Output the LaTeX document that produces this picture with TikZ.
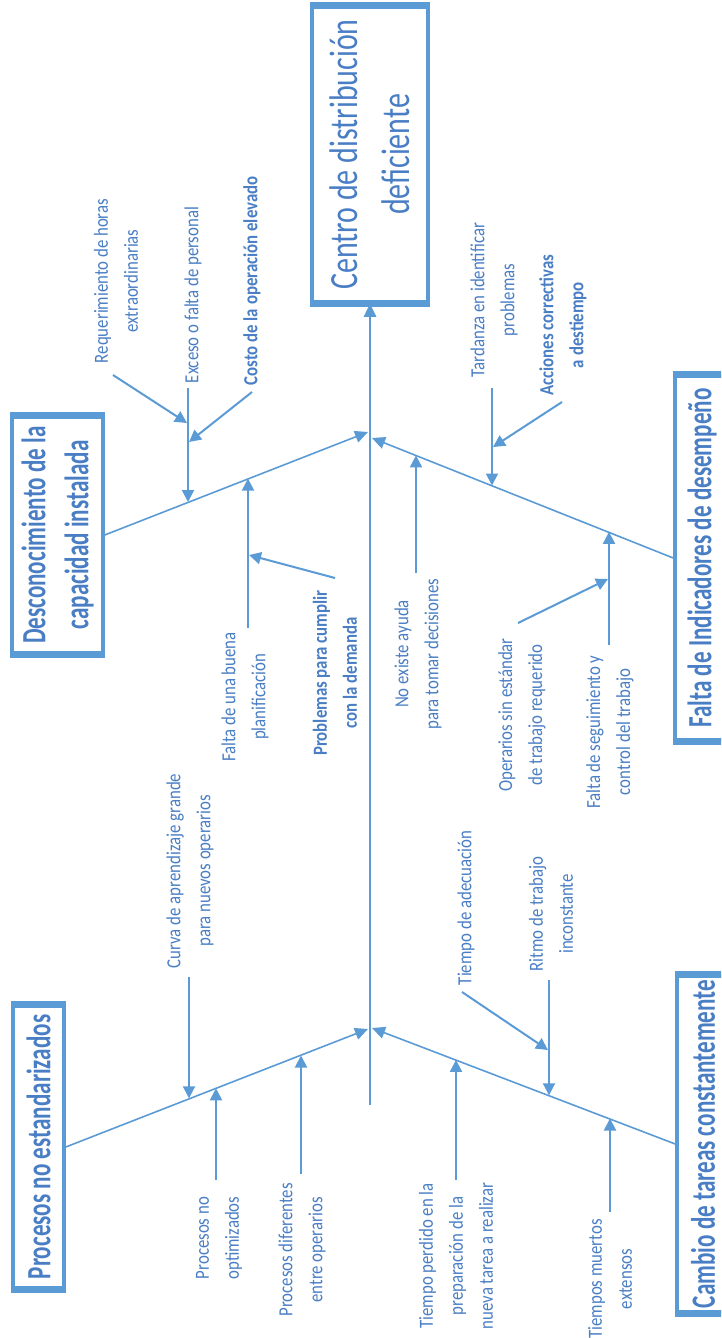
\documentclass[tikz,border=0pt]{standalone}
\usepackage{fontspec}
\setmainfont{Carlito}
\newfontfamily\headfont[FakeStretch=0.75]{Carlito}
\newfontfamily\catfont[FakeStretch=0.68]{Carlito}
\newfontfamily\labfont[FakeStretch=0.84]{Carlito}
\usetikzlibrary{arrows.meta}
\definecolor{fbline}{RGB}{91,155,213}
\definecolor{fbtext}{RGB}{74,126,196}
\begin{document}
\begin{tikzpicture}[x=1pt,y=-1pt,
  lab/.style={rotate=90, align=center, text=fbtext, inner sep=0pt, font=\labfont\fontsize{20}{30}\selectfont},
  labb/.style={lab, font=\labfont\bfseries\fontsize{20}{30}\selectfont},
  catbox/.style={draw=fbline, line width=3.5pt, rotate=90, align=center, text=fbtext, inner sep=0pt, font=\catfont\bfseries\fontsize{34}{43}\selectfont},
  headbox/.style={catbox, font=\headfont\fontsize{40}{52}\selectfont},
  bar/.style={draw=fbline, line width=7pt},
  bone/.style={draw=fbline, line width=1.6pt, -{Triangle[length=13pt,width=12pt]}},
  subarrow/.style={draw=fbline, line width=2pt, -{Triangle[length=12pt,width=12pt]}},
  spine/.style={draw=fbline, line width=2.5pt, -{Triangle[length=13pt,width=12pt]}}
]
\useasboundingbox (0,0) rectangle (721,1338);
\clip (0,0) rectangle (721,1338);

% head
\node[headbox, minimum width=295pt, minimum height=116pt] (head) at (370,154.5) {Centro de distribución\\deficiente};
\draw[bar] (head.north east) -- (head.south east);
\draw[bar] (head.north west) -- (head.south west);

% category boxes
\node[catbox, minimum width=236pt, minimum height=91pt] (c1) at (57.5,535) {Desconocimiento de la\\capacidad instalada};
\draw[bar] (c1.north east) -- (c1.south east);
\draw[bar] (c1.north west) -- (c1.south west);

\node[catbox, minimum width=364pt, minimum height=54pt] (f1) at (702,558) {Falta de Indicadores de desempeño};
\draw[bar] (f1.north east) -- (f1.south east);
\draw[bar] (f1.north west) -- (f1.south west);

\node[catbox, minimum width=282pt, minimum height=51pt] (p1) at (38.5,1147) {Procesos no estandarizados};
\draw[bar] (p1.north east) -- (p1.south east);
\draw[bar] (p1.north west) -- (p1.south west);

\node[catbox, minimum width=336pt, minimum height=52pt] (t1) at (703,1144) {Cambio de tareas constantemente};
\draw[bar] (t1.north east) -- (t1.south east);
\draw[bar] (t1.north west) -- (t1.south west);

% spine and junctions
\coordinate (sp0) at (370,1105);
\coordinate (j1) at (368,432);
\coordinate (j2) at (372,438);
\coordinate (j3) at (368,1029);
\coordinate (j4) at (372,1028);
\draw[spine] (sp0) -- (head.west);
\draw[bone] (c1.south) -- (j1);
\draw[bone] (f1.north) -- (j2);
\draw[bone] (p1.south) -- (j3);
\draw[bone] (t1.north) -- (j4);

% labels
\node[lab] (l1) at (116,281) {Requerimiento de horas\\extraordinarias};
\node[lab] (l2) at (193,295) {Exceso o falta de personal};
\node[labb] (l3) at (252,281) {Costo de la operación elevado};
\node[lab] (l4) at (245,697) {Falta de una buena\\planificación};
\node[labb] (l5) at (335,673) {Problemas para cumplir\\con la demanda};
\node[lab] (l6) at (418,654) {No existe ayuda\\para tomar decisiones};
\node[lab] (l7) at (522,715) {Operarios sin estándar\\de trabajo requerido};
\node[lab] (l8) at (610,732) {Falta de seguimiento y\\control del trabajo};
\node[lab] (l9) at (494,300) {Tardanza en identificar\\problemas};
\node[labb] (l10) at (563,325) {Acciones correctivas\\a destiempo};
\node[lab] (l11) at (190,871) {Curva de aprendizaje grande\\para nuevos operarios};
\node[lab] (l12) at (219,1238) {Procesos no\\optimizados};
\node[lab] (l13) at (302,1250) {Procesos diferentes\\entre operarios};
\node[lab] (l14) at (466,908) {Tiempo de adecuación};
\node[lab] (l15) at (551,914) {Ritmo de trabajo\\inconstante};
\node[lab] (l16) at (456,1256) {Tiempo perdido en la\\preparación de la\\nueva tarea a realizar};
\node[lab] (l17) at (610,1279) {Tiempos muertos\\extensos};

% sub-cause arrows: upper left
\coordinate (a1s) at (188,388);   \coordinate (a1t) at (188,502);
\coordinate (a2s) at (113,375);   \coordinate (a2t) at (187,423);
\coordinate (a3s) at (252,392);   \coordinate (a3t) at (189,442);
\coordinate (a4s) at (248,628);   \coordinate (a4t) at (248,478.6);
\coordinate (a5s) at (335,578);   \coordinate (a5t) at (249,555);
\draw[subarrow] (a1s) -- (a1t);
\draw[subarrow] (a2s) -- (a2t);
\draw[subarrow] (a3s) -- (a3t);
\draw[subarrow] (a4s) -- (a4t);
\draw[subarrow] (a5s) -- (a5t);

% upper right
\coordinate (b1s) at (416,573);   \coordinate (b1t) at (416,455.4);
\coordinate (b2s) at (492,388);   \coordinate (b2t) at (492,485.5);
\coordinate (b3s) at (562,402);   \coordinate (b3t) at (493,447);
\coordinate (b4s) at (609,645);   \coordinate (b4t) at (609,531.9);
\coordinate (b5s) at (518,623);   \coordinate (b5t) at (608,579);
\draw[subarrow] (b1s) -- (b1t);
\draw[subarrow] (b2s) -- (b2t);
\draw[subarrow] (b3s) -- (b3t);
\draw[subarrow] (b4s) -- (b4t);
\draw[subarrow] (b5s) -- (b5t);

% lower left
\coordinate (c1s) at (189,977);   \coordinate (c1t) at (189,1098.3);
\coordinate (c2s) at (216,1180);  \coordinate (c2t) at (216,1088.3);
\coordinate (c3s) at (301,1174);  \coordinate (c3t) at (301,1055.5);
\draw[subarrow] (c1s) -- (c1t);
\draw[subarrow] (c2s) -- (c2t);
\draw[subarrow] (c3s) -- (c3t);

% lower right
\coordinate (d1s) at (456,1180);  \coordinate (d1t) at (456,1059.9);
\coordinate (d2s) at (549,980);   \coordinate (d2t) at (549,1095.3);
\coordinate (d3s) at (462,992);   \coordinate (d3t) at (548,1050);
\coordinate (d4s) at (610,1212);  \coordinate (d4t) at (610,1118.5);
\draw[subarrow] (d1s) -- (d1t);
\draw[subarrow] (d2s) -- (d2t);
\draw[subarrow] (d3s) -- (d3t);
\draw[subarrow] (d4s) -- (d4t);
\end{tikzpicture}
\end{document}
